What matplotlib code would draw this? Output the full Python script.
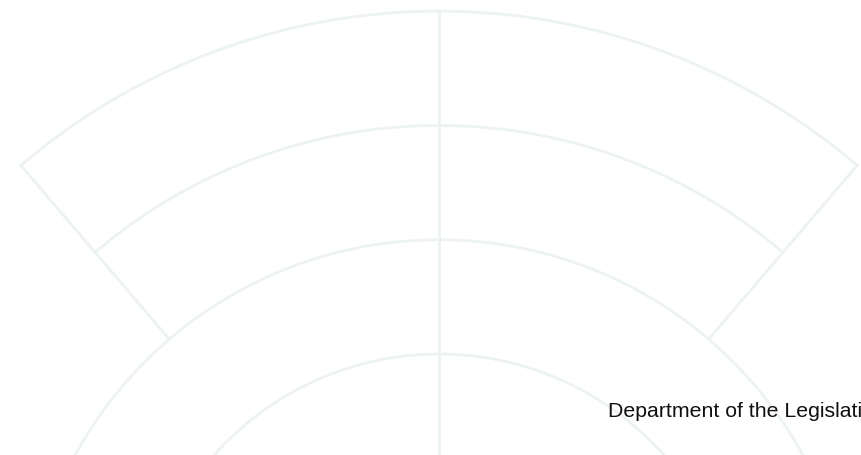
import numpy as np
import matplotlib
matplotlib.use('Agg')
import matplotlib.pyplot as plt

# Grid levels of the radial chart (radial units)
inner_rings = [2, 3]            # full circles
outer_rings = [4, 5]            # only inside the upper sector
sector_edges = [49.5, 130.5]    # degrees, edges of the upper sector
center_line = 90                # degrees, vertical divider
sector_inner = 3
sector_outer = 5
label_text = 'Department of the Legislative Council'

GRID = '#edf3f2'
LW = 2.0

W, H = 861, 455
PX_PER_UNIT = 114.3
R_ORIGIN = -0.633
R_MAX = 6.0
CX, CY = 439, -200              # centre in pixels from bottom-left

fig = plt.figure(figsize=(W / 100, H / 100), dpi=100)
fig.patch.set_facecolor('white')

half = (R_MAX - R_ORIGIN) * PX_PER_UNIT
ax = fig.add_axes([(CX - half) / W, (CY - half) / H, 2 * half / W, 2 * half / H],
                  projection='polar')
ax.set_rorigin(R_ORIGIN)
ax.set_ylim(0, R_MAX)
ax.set_axis_off()

full = np.linspace(0, 2 * np.pi, 721)
for r in inner_rings:
    ax.plot(full, np.full_like(full, r), color=GRID, lw=LW, solid_capstyle='butt')

arc = np.linspace(np.radians(sector_edges[0]), np.radians(sector_edges[1]), 241)
for r in outer_rings:
    ax.plot(arc, np.full_like(arc, r), color=GRID, lw=LW, solid_joinstyle='miter')

for a in sector_edges:
    ax.plot([np.radians(a)] * 2, [sector_inner, sector_outer], color=GRID, lw=LW)

ax.plot([np.radians(center_line)] * 2, [0, sector_outer], color=GRID, lw=LW)

# the label runs past the right edge, as in the original
fig.text(608 / W, (H - 417) / H, label_text, fontsize=15.3,
         family=['Liberation Sans', 'DejaVu Sans'], color='#111111',
         ha='left', va='baseline')

fig.savefig('out.png', dpi=100)
